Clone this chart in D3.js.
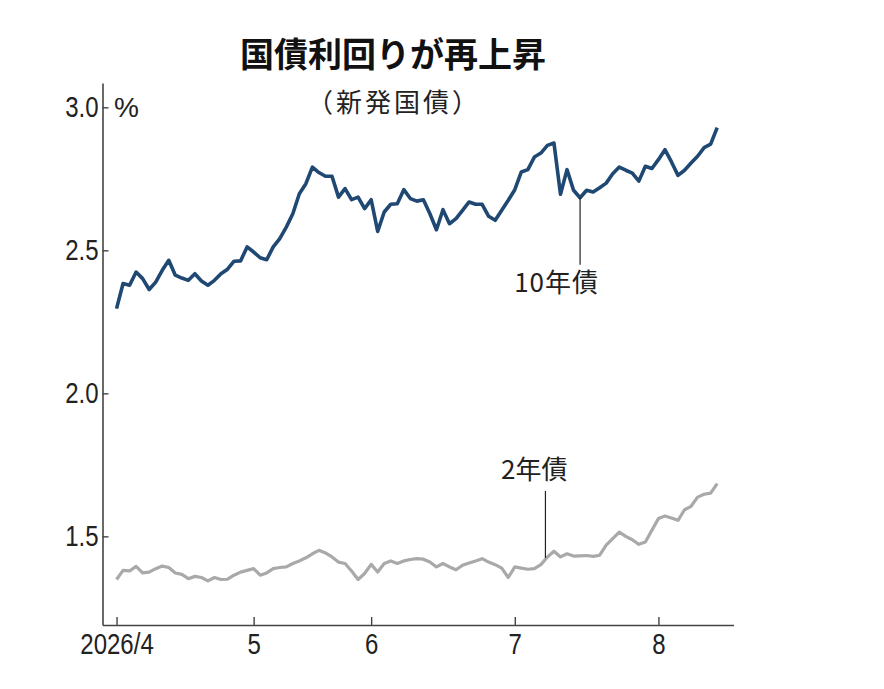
<!DOCTYPE html>
<html>
<head>
<meta charset="utf-8">
<script src="https://cdn.jsdelivr.net/npm/d3@7"></script>
<style>
  html, body { margin: 0; padding: 0; background: #fff; }
  svg { display: block; }
</style>
</head>
<body>
<svg id="chart" width="884" height="689"></svg>
<script>
// trading days from 2026/4/1, one value per day (%)
let yield10 = [
  2.296, 2.384, 2.378, 2.424, 2.401, 2.363, 2.389, 2.430, 2.465, 2.413,
  2.403, 2.395, 2.418, 2.393, 2.378, 2.395, 2.418, 2.434, 2.462, 2.463,
  2.512, 2.494, 2.474, 2.467, 2.512, 2.541, 2.581, 2.628, 2.698, 2.733,
  2.791, 2.772, 2.759, 2.759, 2.686, 2.716, 2.677, 2.686, 2.646, 2.677,
  2.566, 2.634, 2.661, 2.663, 2.712, 2.681, 2.672, 2.677, 2.628, 2.572,
  2.642, 2.593, 2.611, 2.640, 2.669, 2.661, 2.661, 2.619, 2.605, 2.640,
  2.675, 2.712, 2.774, 2.782, 2.826, 2.840, 2.867, 2.875, 2.696, 2.782,
  2.710, 2.684, 2.710, 2.704, 2.719, 2.735, 2.768, 2.791, 2.780, 2.770,
  2.742, 2.794, 2.786, 2.817, 2.852, 2.809, 2.762, 2.780, 2.805, 2.829,
  2.859, 2.871, 2.929
];
let yield2 = [
  1.349, 1.381, 1.379, 1.395, 1.372, 1.375, 1.387, 1.396, 1.391, 1.372,
  1.367, 1.352, 1.360, 1.356, 1.344, 1.356, 1.349, 1.350, 1.364, 1.375,
  1.381, 1.387, 1.364, 1.372, 1.387, 1.391, 1.393, 1.405, 1.414, 1.425,
  1.439, 1.451, 1.442, 1.428, 1.410, 1.405, 1.379, 1.349, 1.370, 1.402,
  1.375, 1.405, 1.414, 1.405, 1.414, 1.419, 1.422, 1.420, 1.410, 1.393,
  1.405, 1.393, 1.383, 1.399, 1.407, 1.414, 1.422, 1.410, 1.401, 1.389,
  1.356, 1.393, 1.389, 1.385, 1.387, 1.401, 1.428, 1.448, 1.428, 1.439,
  1.431, 1.432, 1.433, 1.430, 1.434, 1.469, 1.492, 1.515, 1.500, 1.488,
  1.472, 1.480, 1.521, 1.562, 1.571, 1.564, 1.556, 1.593, 1.605, 1.637,
  1.647, 1.651, 1.684
];

// first trading day of each month
let monthTickIndex = [0, 21, 39, 61, 83];
let monthTickLabels = ["2026/4", "5", "6", "7", "8"];
let yTicks = [1.5, 2.0, 2.5, 3.0];

let titleText = "国債利回りが再上昇";
let subtitleText = "（新発国債）";
let unitText = "%";

let seriesNames = ["10年債", "2年債"];
let labelIndex = [71, 66];

// numbers in the original are a condensed face; squeeze a plain one
let numFont = "'Liberation Sans', Arial, sans-serif";
let numSqueeze = "scale(0.8,1)";
let jpFont = "'Noto Sans CJK JP', 'Noto Sans', sans-serif";

let plotLeft = 102.5, plotRight = 733.5, plotTop = 83, plotBottom = 625;

let svg = d3.select("#chart");

let x = d3.scaleLinear().domain([-2.15, 94.5]).range([plotLeft, plotRight]);
let y = d3.scaleLinear().domain([1.19, 3.085]).range([plotBottom, plotTop]);

// titles
svg.append("text")
  .attr("x", 393).attr("y", 67)
  .attr("text-anchor", "middle")
  .attr("font-family", jpFont)
  .attr("font-weight", 700)
  .attr("font-size", 34)
  .attr("fill", "#111")
  .text(titleText);

svg.append("text")
  .attr("x", 394).attr("y", 112)
  .attr("text-anchor", "middle")
  .attr("font-family", jpFont)
  .attr("font-size", 26)
  .attr("letter-spacing", 3)
  .attr("fill", "#222")
  .text(subtitleText);

// y axis, ticks point inward
let yAxis = svg.append("g")
  .attr("transform", `translate(${plotLeft},0)`)
  .call(d3.axisLeft(y).tickValues(yTicks).tickFormat(d3.format(".1f"))
    .tickSize(-6).tickSizeOuter(0).tickPadding(5));

// x axis, ticks point inward
let xAxis = svg.append("g")
  .attr("transform", `translate(0,${plotBottom})`)
  .call(d3.axisBottom(x).tickValues(monthTickIndex)
    .tickFormat((d, i) => monthTickLabels[i])
    .tickSize(-8).tickSizeOuter(0).tickPadding(8));

[yAxis, xAxis].forEach(g => {
  g.select(".domain").attr("stroke", "#444").attr("stroke-width", 1.6);
  g.selectAll(".tick line").attr("stroke", "#444").attr("stroke-width", 1.4);
  g.selectAll(".tick text")
    .attr("font-family", numFont)
    .attr("font-size", 30)
    .attr("fill", "#222")
    .attr("transform", numSqueeze);
});

svg.append("text")
  .attr("x", 114).attr("y", y(3.0))
  .attr("dy", "0.36em")
  .attr("font-family", numFont)
  .attr("font-size", 28)
  .attr("fill", "#222")
  .text(unitText);

// lines
let line = d3.line()
  .x((d, i) => x(i))
  .y(d => y(d));

svg.append("path")
  .datum(yield2)
  .attr("d", line)
  .attr("fill", "none")
  .attr("stroke", "#a9a9a9")
  .attr("stroke-width", 3.2)
  .attr("stroke-linejoin", "round");

svg.append("path")
  .datum(yield10)
  .attr("d", line)
  .attr("fill", "none")
  .attr("stroke", "#1f4873")
  .attr("stroke-width", 3.6)
  .attr("stroke-linejoin", "round");

// leader lines + labels
// 10年債 hangs below the line, 2年債 sits above it
let i10 = labelIndex[0];
svg.append("line")
  .attr("x1", x(i10)).attr("x2", x(i10))
  .attr("y1", y(yield10[i10])).attr("y2", y(yield10[i10]) + 67)
  .attr("stroke", "#222").attr("stroke-width", 1.2);
svg.append("text")
  .attr("x", x(i10) + 19).attr("y", y(yield10[i10]) + 94)
  .attr("text-anchor", "end")
  .attr("font-family", jpFont)
  .attr("font-size", 26)
  .attr("letter-spacing", 1)
  .attr("fill", "#222")
  .text(seriesNames[0]);

let i2 = labelIndex[1];
svg.append("line")
  .attr("x1", x(i2) - 2).attr("x2", x(i2) - 2)
  .attr("y1", y(yield2[i2]) + 1).attr("y2", y(yield2[i2]) - 66)
  .attr("stroke", "#222").attr("stroke-width", 1.2);
svg.append("text")
  .attr("x", x(i2) + 20).attr("y", y(yield2[i2]) - 78)
  .attr("text-anchor", "end")
  .attr("font-family", jpFont)
  .attr("font-size", 26)
  .attr("fill", "#222")
  .text(seriesNames[1]);
</script>
</body>
</html>
